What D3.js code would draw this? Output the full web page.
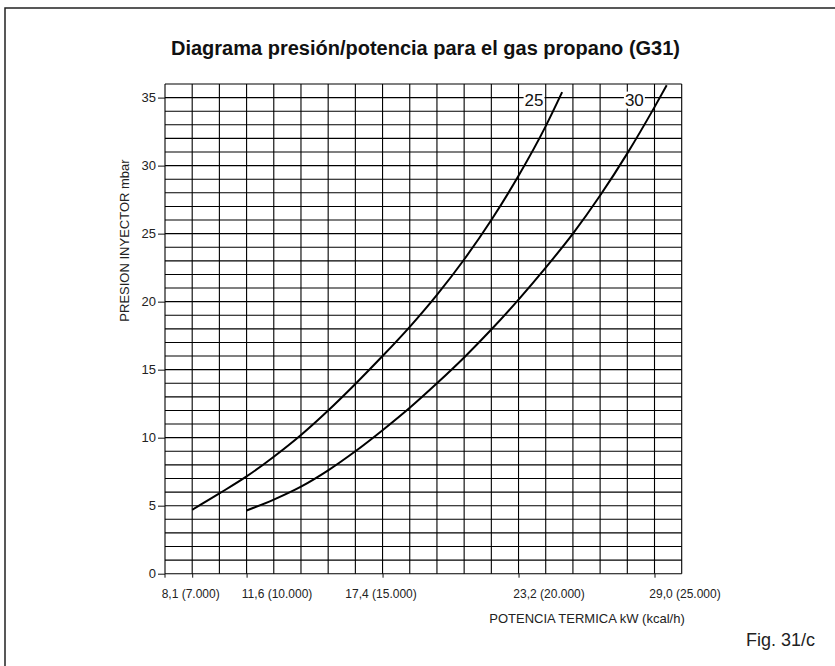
<!DOCTYPE html>
<meta charset="utf-8">
<body style="margin:0;background:#fff">
<script src="https://d3js.org/d3.v7.min.js"></script>
<script>
// readings taken off the chart: power in kW along each curve, pressure in mbar
var kw25   = [8.1, 9.85, 11.6, 12.76, 13.92, 15.08, 16.24, 17.4, 18.56, 19.72, 20.88, 22.04, 23.2, 24.36, 25.06];
var mbar25 = [4.7, 5.9, 7.15, 8.6, 10.2, 12.0, 13.95, 16.0, 18.15, 20.5, 23.1, 26.0, 29.25, 32.9, 35.4];
var kw30   = [11.6, 12.76, 13.92, 15.08, 16.24, 17.4, 18.56, 19.72, 20.88, 22.04, 23.2, 24.36, 25.52, 26.68, 27.84, 29.0, 29.52];
var mbar30 = [4.65, 5.45, 6.4, 7.6, 9.0, 10.55, 12.2, 14.0, 15.9, 17.95, 20.15, 22.5, 25.0, 27.8, 30.9, 34.3, 35.9];
var curveNames = ["25", "30"];

var xTickKw   = [8.1, 11.6, 17.4, 23.2, 29.0];
var xTickKcal = [7000, 10000, 15000, 20000, 25000];
var yTicks = [0, 5, 10, 15, 20, 25, 30, 35];

var width = 835, height = 666;
var m = {left: 165, top: 84, right: 153.3, bottom: 92.3};
var nCols = 19, nRows = 36;

var svg = d3.select("body").append("svg")
	.attr("width", width)
	.attr("height", height)
	.style("font-family", "'Liberation Sans', Arial, sans-serif");

// outer frame
svg.append("rect")
	.attr("x", 5).attr("y", 8)
	.attr("width", 900).attr("height", 800)
	.attr("fill", "none").attr("stroke", "#222").attr("stroke-width", 1.5);

// grid column scale, and the kW axis (not even, so a polylinear scale)
var colX = d3.scaleLinear().domain([0, nCols]).range([m.left, width - m.right]);
var x = d3.scaleLinear()
	.domain([xTickKw[0], xTickKw[1], xTickKw[4]])
	.range([colX(1), colX(3), colX(18)]);
var y = d3.scaleLinear().domain([0, nRows]).range([height - m.bottom, m.top]);

//grid
var grid = svg.append("g").attr("stroke", "#000").attr("stroke-width", 1.1);
grid.selectAll(".v").data(d3.range(nCols + 1)).enter().append("line")
	.attr("x1", function(d){ return colX(d); })
	.attr("x2", function(d){ return colX(d); })
	.attr("y1", y(0)).attr("y2", y(nRows));
grid.selectAll(".h").data(d3.range(nRows + 1)).enter().append("line")
	.attr("y1", function(d){ return y(d); })
	.attr("y2", function(d){ return y(d); })
	.attr("x1", colX(0)).attr("x2", colX(nCols));

// Y axis
var yAxis = svg.append("g")
	.attr("transform", "translate(" + m.left + ",0)")
	.call(d3.axisLeft(y).tickValues(yTicks).tickSize(7).tickPadding(2));
yAxis.select(".domain").remove();
yAxis.selectAll("text").attr("font-size", 13).attr("fill", "#222").style("font-family", "inherit");
yAxis.selectAll("line").attr("stroke", "#111");

// X axis
var fmtKcal = function(v){ return d3.format(",")(v).replace(",", "."); };
var xAxis = svg.append("g")
	.attr("transform", "translate(0," + y(0) + ")")
	.call(d3.axisBottom(x).tickValues(xTickKw).tickSize(4).tickPadding(12)
		.tickFormat(function(d, i){ return d.toFixed(1).replace(".", ",") + " (" + fmtKcal(xTickKcal[i]) + ")"; }));
xAxis.select(".domain").remove();
xAxis.selectAll("line").attr("stroke", "#111");
// a few labels in the original sit to the right of their tick
var shifted = [10000, 20000, 25000];
xAxis.selectAll("text")
	.attr("font-size", 12).attr("fill", "#222").style("font-family", "inherit")
	.attr("dx", function(d, i){ return shifted.indexOf(xTickKcal[i]) >= 0 ? 30 : -2; });
svg.append("line")
	.attr("x1", m.left).attr("x2", m.left)
	.attr("y1", y(0)).attr("y2", y(0) + 4)
	.attr("stroke", "#111");

// curves
var line = d3.line()
	.x(function(d){ return x(d[0]); })
	.y(function(d){ return y(d[1]); })
	.curve(d3.curveMonotoneX);
var series = [d3.zip(kw25, mbar25), d3.zip(kw30, mbar30)];
svg.selectAll(".curve").data(series).enter().append("path")
	.attr("class", "curve")
	.attr("d", line)
	.attr("fill", "none")
	.attr("stroke", "#000")
	.attr("stroke-width", 2);

// curve labels with white box over the grid
series.forEach(function(s, i){
	var kwAt35 = d3.scaleLinear().domain(s.map(function(d){ return d[1]; })).range(s.map(function(d){ return d[0]; }))(35);
	var g = svg.append("g");
	var t = g.append("text")
		.attr("x", x(kwAt35) - 16)
		.attr("y", y(35) + 8)
		.attr("text-anchor", "end")
		.attr("font-size", 17)
		.attr("fill", "#111")
		.text(curveNames[i]);
	var b = t.node().getBBox();
	g.insert("rect", "text")
		.attr("x", b.x - 1).attr("y", b.y + 1)
		.attr("width", b.width + 2).attr("height", b.height - 2)
		.attr("fill", "#fff");
});

//titles
svg.append("text")
	.attr("x", 425.5).attr("y", 55)
	.attr("text-anchor", "middle")
	.attr("font-size", 20).attr("font-weight", "bold")
	.attr("fill", "#111")
	.text("Diagrama presión/potencia para el gas propano (G31)");

svg.append("text")
	.attr("transform", "translate(129,240.5) rotate(-90)")
	.attr("text-anchor", "middle")
	.attr("font-size", 13).attr("fill", "#222")
	.text("PRESION INYECTOR mbar");

svg.append("text")
	.attr("x", 587).attr("y", 623)
	.attr("text-anchor", "middle")
	.attr("font-size", 13).attr("fill", "#222")
	.text("POTENCIA TERMICA kW (kcal/h)");

svg.append("text")
	.attr("x", 815).attr("y", 646)
	.attr("text-anchor", "end")
	.attr("font-size", 18).attr("fill", "#222")
	.text("Fig. 31/c");
</script>
</body>
